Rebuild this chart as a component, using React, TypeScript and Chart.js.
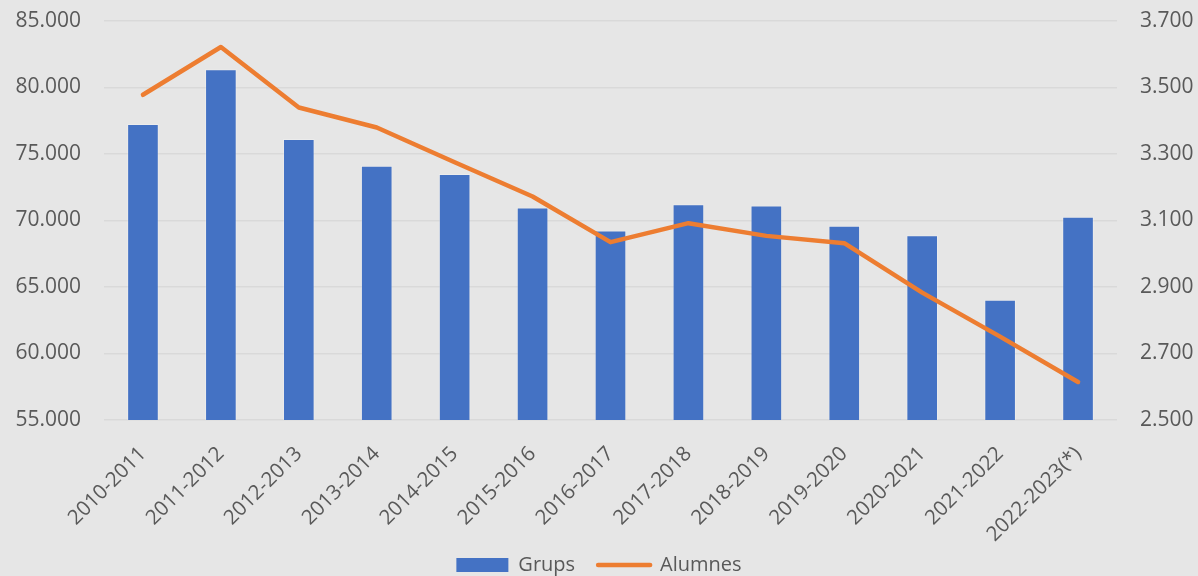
import React, { useEffect, useRef } from "react";
import { Chart, registerables } from "chart.js";

Chart.register(...registerables);

const categories = [
  "2010-2011", "2011-2012", "2012-2013", "2013-2014", "2014-2015", "2015-2016",
  "2016-2017", "2017-2018", "2018-2019", "2019-2020", "2020-2021", "2021-2022", "2022-2023(*)",
];
const grups = [3390, 3555, 3345, 3265, 3240, 3139, 3070, 3149, 3145, 3084, 3056, 2862, 3111];
const alumnes = [79454, 83044, 78499, 76994, 74375, 71801, 68370, 69800, 68844, 68294, 64577, 61266, 57857];

const leftMin = 55000, leftMax = 85000, leftStep = 5000;
const rightMin = 2500, rightMax = 3700, rightStep = 200;

const fmt = (n: number) => String(n).replace(/\B(?=(\d{3})+(?!\d))/g, ".");

const FONT = "'Open Sans', sans-serif";
const TEXT = "#595959";

export default function App() {
  const ref = useRef<HTMLCanvasElement>(null);
  useEffect(() => {
    const chart = new Chart(ref.current!, {
      type: "bar",
      data: {
        labels: categories,
        datasets: [
          {
            type: "bar",
            label: "Grups",
            data: grups,
            yAxisID: "y1",
            backgroundColor: "#4472C4",
            borderColor: "rgba(255,255,255,0.25)",
            borderWidth: 1,
            barPercentage: 1,
            categoryPercentage: 0.406,
            order: 1,
          },
          {
            type: "line",
            label: "Alumnes",
            data: alumnes,
            yAxisID: "y",
            borderColor: "#ED7D31",
            backgroundColor: "#ED7D31",
            borderWidth: 4.5,
            borderCapStyle: "round",
            borderJoinStyle: "round",
            pointRadius: 0,
            tension: 0,
            order: 0,
          } as any,
        ],
      },
      options: {
        responsive: false,
        animation: false,
        devicePixelRatio: 1,
        layout: { padding: { top: 21, left: 0, right: 0, bottom: 0 } },
        plugins: {
          tooltip: { enabled: false },
          legend: {
            position: "bottom",
            maxHeight: 44,
            labels: {
              usePointStyle: true,
              pointStyleWidth: 52,
              boxHeight: 14,
              padding: 23,
              color: TEXT,
              font: { family: FONT, size: 20 },
              sort: (a: any, b: any) => a.datasetIndex - b.datasetIndex,
              generateLabels: (c: any) =>
                c.data.datasets.map((ds: any, i: number) => ({
                  text: ds.label,
                  datasetIndex: i,
                  fillStyle: ds.backgroundColor,
                  strokeStyle: i === 0 ? ds.backgroundColor : ds.borderColor,
                  lineWidth: i === 0 ? 0 : 4.5,
                  lineCap: "round",
                  pointStyle: i === 0 ? "rect" : "line",
                  fontColor: TEXT,
                  hidden: false,
                })),
            },
          },
        },
        scales: {
          x: {
            grid: { display: false, drawTicks: false },
            border: { display: false },
            ticks: {
              autoSkip: false,
              maxRotation: 45,
              minRotation: 45,
              color: TEXT,
              font: { family: FONT, size: 20.5 },
              padding: 22,
              labelOffset: 0,
            },
            afterFit: (s: any) => {
              s.height = 112;
              s._computeLabelArea = () => undefined;
            },
          },
          y: {
            position: "left",
            min: leftMin,
            max: leftMax,
            grid: { color: "#d9d9d9", lineWidth: 1.5, drawTicks: false },
            border: { display: false },
            ticks: {
              stepSize: leftStep,
              color: TEXT,
              font: { family: FONT, size: 21 },
              padding: 23,
              callback: (v: any) => fmt(Number(v)),
            },
            afterFit: (s: any) => {
              s.width = 104;
              s.paddingTop = 0;
              s.paddingBottom = 0;
            },
          },
          y1: {
            position: "right",
            min: rightMin,
            max: rightMax,
            grid: { display: false, drawTicks: false },
            border: { display: false },
            ticks: {
              stepSize: rightStep,
              color: TEXT,
              font: { family: FONT, size: 21 },
              padding: 23,
              callback: (v: any) => fmt(Number(v)),
            },
            afterFit: (s: any) => {
              s.width = 81;
              s.paddingTop = 0;
              s.paddingBottom = 0;
            },
          },
        },
      },
    });
    return () => chart.destroy();
  }, []);
  return (
    <div style={{ position: "fixed", left: 0, top: 0, width: 1198, height: 576, background: "#e6e6e6" }}>
      <canvas ref={ref} width={1198} height={576} />
    </div>
  );
}
